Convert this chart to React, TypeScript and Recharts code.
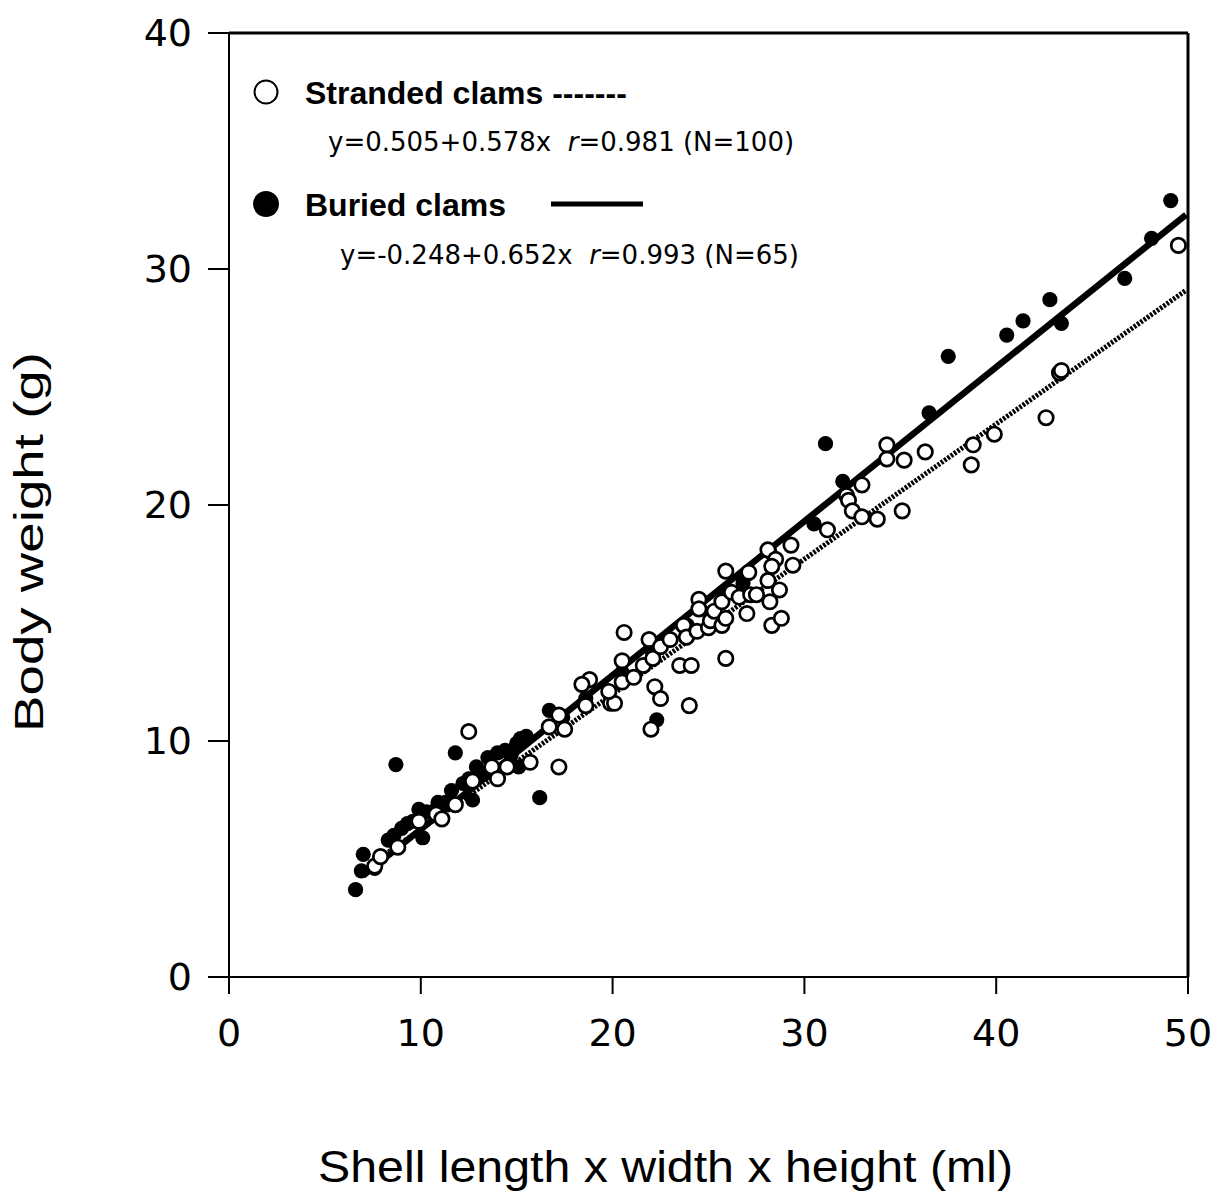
import React from "react";
import { ScatterChart, Scatter, XAxis, YAxis, ReferenceLine, Label } from "recharts";

// stranded clams (open circles): [shell volume ml, body weight g]
const strandedPts: number[][] = [
  [7.6, 4.7], [7.9, 5.1], [8.8, 5.5], [9.9, 6.6], [10.8, 6.9], [11.1, 6.7], [11.8, 7.3],
  [12.5, 10.4], [12.7, 8.3], [13.7, 8.9], [14.0, 8.4], [14.5, 8.9], [15.7, 9.1], [17.2, 8.9],
  [16.7, 10.6], [17.2, 11.1], [17.5, 10.5], [18.6, 11.5], [18.8, 12.6], [18.4, 12.4],
  [19.9, 11.6], [20.1, 11.6], [19.8, 12.1], [20.5, 13.4], [20.6, 14.6], [20.5, 12.5],
  [21.1, 12.7], [21.6, 13.2], [21.9, 14.3], [22.1, 13.5], [22.2, 12.3], [22.5, 11.8],
  [22.0, 10.5], [22.5, 14.0], [23.0, 14.3], [23.5, 13.2], [23.7, 14.9], [23.85, 14.4],
  [24.1, 13.2], [24.0, 11.5], [24.4, 14.65], [24.5, 16.0], [24.5, 15.6], [25.0, 14.8],
  [25.1, 15.1], [25.3, 15.5], [25.7, 15.9], [25.7, 14.9], [25.9, 13.5], [25.9, 17.2],
  [26.2, 16.3], [25.9, 15.2], [26.6, 16.1], [27.0, 15.4], [27.1, 17.15], [27.2, 16.2],
  [27.5, 16.2], [28.1, 16.8], [28.2, 15.9], [28.3, 14.9], [28.1, 18.1], [28.5, 17.7],
  [28.7, 16.4], [28.8, 15.2], [29.3, 18.3], [29.4, 17.45], [28.3, 17.4], [31.2, 18.95],
  [32.2, 20.4], [32.3, 20.2], [32.5, 19.75], [33.0, 20.85], [33.0, 19.5], [33.8, 19.4],
  [34.3, 22.55], [34.3, 21.95], [35.2, 21.9], [35.1, 19.75], [36.3, 22.25], [38.8, 22.55],
  [38.7, 21.7], [39.9, 23.0], [42.6, 23.7], [43.3, 25.6], [43.4, 25.7], [49.5, 31.0],
];

// buried clams (filled circles)
const buriedPts: number[][] = [
  [6.6, 3.7], [6.9, 4.5], [7.0, 5.2], [7.6, 4.6], [8.3, 5.8], [8.7, 9.0], [8.6, 6.0],
  [9.0, 6.3], [9.3, 6.5], [9.6, 6.6], [9.9, 7.1], [10.1, 5.9], [10.3, 7.0], [10.8, 7.1],
  [10.9, 7.4], [11.3, 7.4], [11.6, 7.9], [11.8, 9.5], [12.2, 8.2], [12.5, 8.4], [12.7, 7.5],
  [12.9, 8.9], [13.3, 8.6], [13.5, 9.3], [13.7, 8.9], [14.0, 9.5], [14.4, 9.6], [14.7, 9.4],
  [15.0, 9.9], [15.1, 8.9], [15.2, 10.1], [15.5, 10.2], [16.2, 7.6], [16.7, 11.3],
  [17.4, 11.0], [18.6, 11.8], [20.5, 12.9], [22.0, 13.9], [22.3, 10.9], [23.9, 14.9],
  [25.8, 16.3], [26.8, 16.7], [27.1, 17.1], [28.2, 18.0], [30.5, 19.2], [31.1, 22.6],
  [32.0, 21.0], [36.5, 23.9], [37.5, 26.3], [40.55, 27.2], [41.4, 27.8], [42.8, 28.7],
  [43.4, 27.7], [46.7, 29.6], [48.1, 31.3], [49.1, 32.9],
];

// regression line ends as drawn
const strandedFit: number[][] = [[7.8, 5.0], [49.9, 29.1]];
const buriedFit: number[][] = [[7.0, 4.3], [49.9, 32.3]];

const xTicks = [0, 10, 20, 30, 40, 50];
const yTicks = [0, 10, 20, 30, 40];

const toXY = (arr: number[][]) => arr.map(([x, y]) => ({ x, y }));

const OpenDot = (p: any) => (
  <circle cx={p.cx} cy={p.cy} r={7.2} fill="#fff" stroke="#000" strokeWidth={2.7} />
);
const FilledDot = (p: any) => <circle cx={p.cx} cy={p.cy} r={7.6} fill="#000" />;
const NoDot = () => <g />;

const tickFont = { fill: "#000", fontSize: 38, fontFamily: "DejaVu Sans" };
const titleFont = "Liberation Sans, Arial, sans-serif";

export default function App() {
  return (
    <div style={{ position: "absolute", left: 0, top: 0, width: 1224, height: 1200, background: "#fff" }}>
      <ScatterChart width={1224} height={1200} margin={{ top: 33, right: 36, left: 149, bottom: 163 }}>
        <XAxis
          type="number"
          dataKey="x"
          domain={[0, 50]}
          ticks={xTicks}
          height={60}
          tickSize={17}
          tickMargin={25}
          tick={tickFont}
          axisLine={{ stroke: "#000", strokeWidth: 2 }}
          tickLine={{ stroke: "#000", strokeWidth: 2 }}
        >
          <Label
            content={() => (
              <text
                x={318}
                y={1182}
                textLength={695}
                lengthAdjust="spacingAndGlyphs"
                fontFamily={titleFont}
                fontSize={45}
                fill="#000"
              >
                Shell length x width x height (ml)
              </text>
            )}
          />
        </XAxis>
        <YAxis
          type="number"
          dataKey="y"
          domain={[0, 40]}
          ticks={yTicks}
          width={80}
          tickSize={21}
          tickMargin={16}
          tick={tickFont}
          axisLine={{ stroke: "#000", strokeWidth: 2 }}
          tickLine={{ stroke: "#000", strokeWidth: 2 }}
        >
          <Label
            content={() => (
              <text
                transform="rotate(-90)"
                x={-732}
                y={43}
                textLength={380}
                lengthAdjust="spacingAndGlyphs"
                fontFamily={titleFont}
                fontSize={41}
                fill="#000"
              >
                Body weight (g)
              </text>
            )}
          />
        </YAxis>
        <ReferenceLine y={40} stroke="#000" strokeWidth={3} />
        <ReferenceLine x={50} stroke="#000" strokeWidth={3} />
        <Scatter
          data={toXY(strandedFit)}
          line={{ stroke: "#000", strokeWidth: 5, strokeDasharray: "2.5 1.5" }}
          shape={NoDot}
          isAnimationActive={false}
        />
        <Scatter
          data={toXY(buriedFit)}
          line={{ stroke: "#000", strokeWidth: 6.5 }}
          shape={NoDot}
          isAnimationActive={false}
        />
        <Scatter data={toXY(buriedPts)} shape={FilledDot} isAnimationActive={false} />
        <Scatter data={toXY(strandedPts)} shape={OpenDot} isAnimationActive={false} />
      </ScatterChart>

      {/* legend block, top left of plot */}
      <svg width={1224} height={300} style={{ position: "absolute", left: 0, top: 0, pointerEvents: "none" }}>
        <circle cx={266} cy={92} r={11.5} fill="#fff" stroke="#000" strokeWidth={2} />
        <text x={305} y={104} fontFamily={titleFont} fontWeight="bold" fontSize={32} fill="#000">
          Stranded clams -------
        </text>
        <text x={328} y={151} fontFamily="DejaVu Sans" fontSize={26} fill="#000">
          y=0.505+0.578x{"\u00a0\u00a0"}<tspan fontStyle="italic">r</tspan>=0.981 (N=100)
        </text>
        <circle cx={266} cy={204} r={13} fill="#000" />
        <text x={305} y={216} fontFamily={titleFont} fontWeight="bold" fontSize={32} fill="#000">
          Buried clams
        </text>
        <line x1={551} x2={643} y1={204} y2={204} stroke="#000" strokeWidth={5} />
        <text x={340} y={264} fontFamily="DejaVu Sans" fontSize={26} fill="#000">
          y=-0.248+0.652x{"\u00a0\u00a0"}<tspan fontStyle="italic">r</tspan>=0.993 (N=65)
        </text>
      </svg>
    </div>
  );
}
